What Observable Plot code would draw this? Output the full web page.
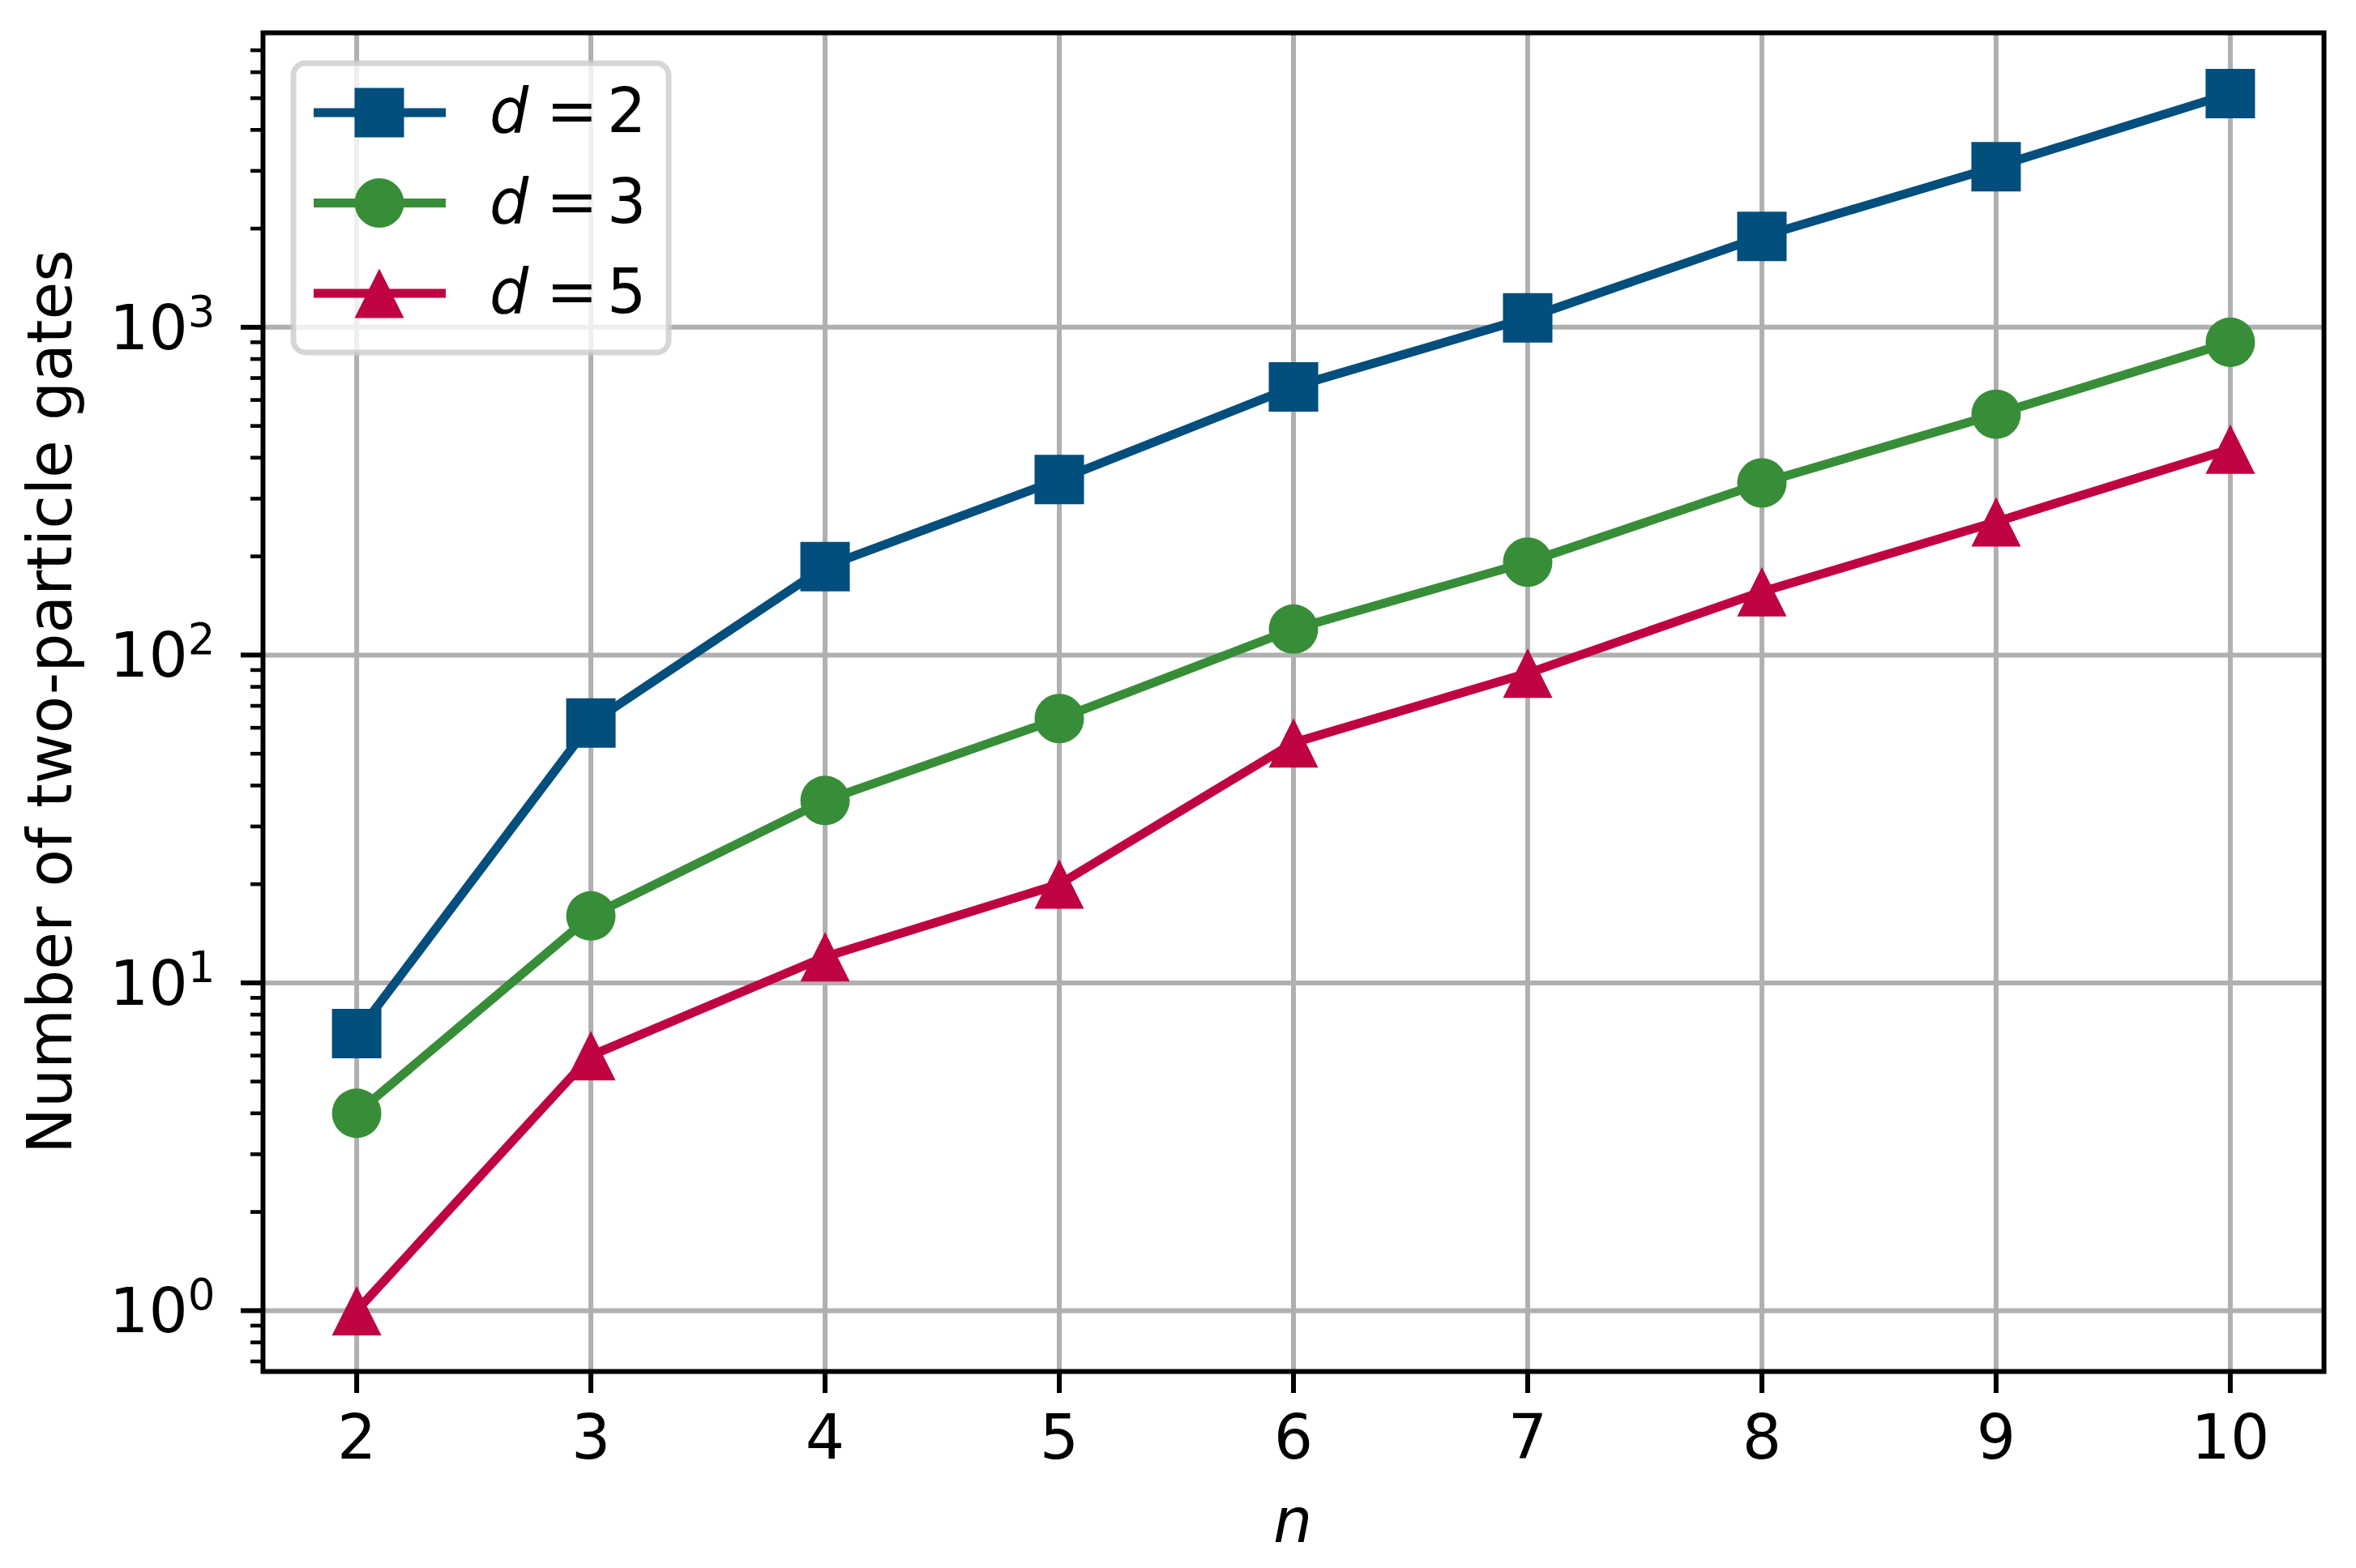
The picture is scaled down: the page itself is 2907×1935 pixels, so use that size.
<!DOCTYPE html>
<html>
<head>
<meta charset="utf-8">
<script src="https://cdn.jsdelivr.net/npm/d3@7"></script>
<script src="https://cdn.jsdelivr.net/npm/@observablehq/plot@0.6"></script>
<style>
  html, body { margin: 0; padding: 0; background: #ffffff; }
  #chart svg { display: block; }
</style>
</head>
<body>
<div id="chart"></div>
<script>
// ---- data ----
const nValues = [2, 3, 4, 5, 6, 7, 8, 9, 10];
const gatesD2 = [7, 62, 186, 343, 658, 1068, 1892, 3090, 5160];
const gatesD3 = [4, 16, 36, 64, 120, 192, 335, 543, 900];
const gatesD5 = [1, 6, 12, 20, 54, 88, 156, 255, 425];
const seriesNames = ["d = 2", "d = 3", "d = 5"];
const seriesColors = ["#024e7d", "#388e38", "#bf0340"];
const xTicks = [2, 3, 4, 5, 6, 7, 8, 9, 10];
const yMajorTicks = [1, 10, 100, 1000];
const xLabel = "n";
const yLabel = "Number of two-particle gates";

// ---- marker symbols (matplotlib-like: width = height) ----
const squareSym = { draw(ctx, size) { const r = Math.sqrt(size / Math.PI); ctx.rect(-r, -r, 2 * r, 2 * r); } };
const circleSym = { draw(ctx, size) { const r = Math.sqrt(size / Math.PI); ctx.moveTo(r, 0); ctx.arc(0, 0, r, 0, 2 * Math.PI); } };
const triSym = { draw(ctx, size) { const r = Math.sqrt(size / Math.PI); ctx.moveTo(0, -r); ctx.lineTo(r, r); ctx.lineTo(-r, r); ctx.closePath(); } };
const seriesSymbols = [squareSym, circleSym, triSym];

const seriesValues = [gatesD2, gatesD3, gatesD5];
const seriesRows = seriesValues.map((vals, s) => nValues.map((n, i) => ({ n, g: vals[i], series: seriesNames[s] })));

// matplotlib-like autoscale margins (5%)
const allG = seriesValues.flat();
const lo = Math.log10(d3.min(allG)), hi = Math.log10(d3.max(allG));
const pad = 0.05 * (hi - lo);
const yDomain = [Math.pow(10, lo - pad), Math.pow(10, hi + pad)];
const xPad = 0.05 * (d3.max(nValues) - d3.min(nValues));
const xDomain = [d3.min(nValues) - xPad, d3.max(nValues) + xPad];

const yMinorTicks = [];
for (let e = Math.floor(lo - pad); e <= Math.ceil(hi + pad); e++) {
  for (let k = 2; k <= 9; k++) {
    const v = k * Math.pow(10, e);
    if (v >= yDomain[0] && v <= yDomain[1]) yMinorTicks.push(v);
  }
}

const FS = 76;
const gridStyle = { stroke: "#b0b0b0", strokeWidth: 6, strokeOpacity: 1 };

const marks = [
  Plot.gridX({ ticks: xTicks, ...gridStyle }),
  Plot.gridY({ ticks: yMajorTicks, ...gridStyle })
];
seriesRows.forEach((rows, s) => {
  marks.push(Plot.line(rows, { x: "n", y: "g", stroke: seriesColors[s], strokeWidth: 11, strokeLinejoin: "round", strokeLinecap: "butt" }));
  marks.push(Plot.dot(rows, { x: "n", y: "g", symbol: seriesSymbols[s], r: 30.5, fill: seriesColors[s], stroke: "none" }));
});
marks.push(
  Plot.frame({ stroke: "black", strokeWidth: 6 }),
  Plot.axisX({ ticks: xTicks, tickSize: 27, tickPadding: 27, strokeWidth: 6, fontSize: FS, label: null, tickFormat: d => String(d) }),
  Plot.axisY({ ticks: yMinorTicks, tickSize: 15, strokeWidth: 4.6, tickFormat: () => "", label: null }),
  Plot.axisY({ ticks: yMajorTicks, tickSize: 27, tickPadding: 32, strokeWidth: 6, fontSize: FS, label: null,
               tickFormat: d => "10^" + Math.round(Math.log10(d)) })
);

const chart = Plot.plot({
  width: 2907,
  height: 1935,
  marginLeft: 324,
  marginRight: 40,
  marginTop: 40,
  marginBottom: 243,
  style: { fontFamily: "'DejaVu Sans', sans-serif", fontSize: FS + "px", color: "black", background: "white", overflow: "visible" },
  x: { type: "linear", domain: xDomain },
  y: { type: "log", domain: yDomain },
  marks
});
document.getElementById("chart").appendChild(chart);

const svg = d3.select(chart);

// superscript tick labels 10^k
svg.selectAll('g[aria-label="y-axis tick label"] text').each(function () {
  const t = this.textContent;
  if (!t.includes("^")) return;
  const [base, exp] = t.split("^");
  this.textContent = "";
  this.setAttribute("y", "27");
  const sel = d3.select(this);
  sel.append("tspan").text(base);
  sel.append("tspan").attr("dy", -28).attr("font-size", 53).text(exp);
});

// axis labels
svg.append("text")
  .attr("transform", "translate(88,866) rotate(-90)")
  .attr("text-anchor", "middle")
  .attr("font-family", "'DejaVu Sans', sans-serif")
  .attr("font-size", FS)
  .attr("fill", "black")
  .text(yLabel);
svg.append("text")
  .attr("x", 1595).attr("y", 1903)
  .attr("text-anchor", "middle")
  .attr("font-family", "'DejaVu Sans', sans-serif")
  .attr("font-style", "italic")
  .attr("font-size", FS)
  .attr("fill", "black")
  .text(xLabel);

// legend (inside the axes, upper left)
const lg = svg.append("g");
lg.append("rect")
  .attr("x", 362).attr("y", 78).attr("width", 463).attr("height", 357).attr("rx", 15)
  .attr("fill", "white").attr("fill-opacity", 0.8)
  .attr("stroke", "#cccccc").attr("stroke-opacity", 0.8).attr("stroke-width", 7);
seriesNames.forEach((name, i) => {
  const cy = 139 + 111.5 * i;
  lg.append("line").attr("x1", 387).attr("x2", 550).attr("y1", cy).attr("y2", cy)
    .attr("stroke", seriesColors[i]).attr("stroke-width", 11);
  lg.append("path")
    .attr("transform", `translate(468,${cy})`)
    .attr("d", d3.symbol(seriesSymbols[i], Math.PI * 30.5 * 30.5)())
    .attr("fill", seriesColors[i]);
  const parts = name.split(" ");
  const tx = lg.append("text")
    .attr("y", cy + 24)
    .attr("text-anchor", "start")
    .attr("font-family", "'DejaVu Sans', sans-serif")
    .attr("font-size", FS)
    .attr("fill", "black");
  tx.append("tspan").attr("x", 604).attr("font-style", "italic").text(parts[0]);
  tx.append("tspan").attr("x", 674).text(parts[1]);
  tx.append("tspan").attr("x", 749).text(parts[2]);
});
</script>
</body>
</html>
